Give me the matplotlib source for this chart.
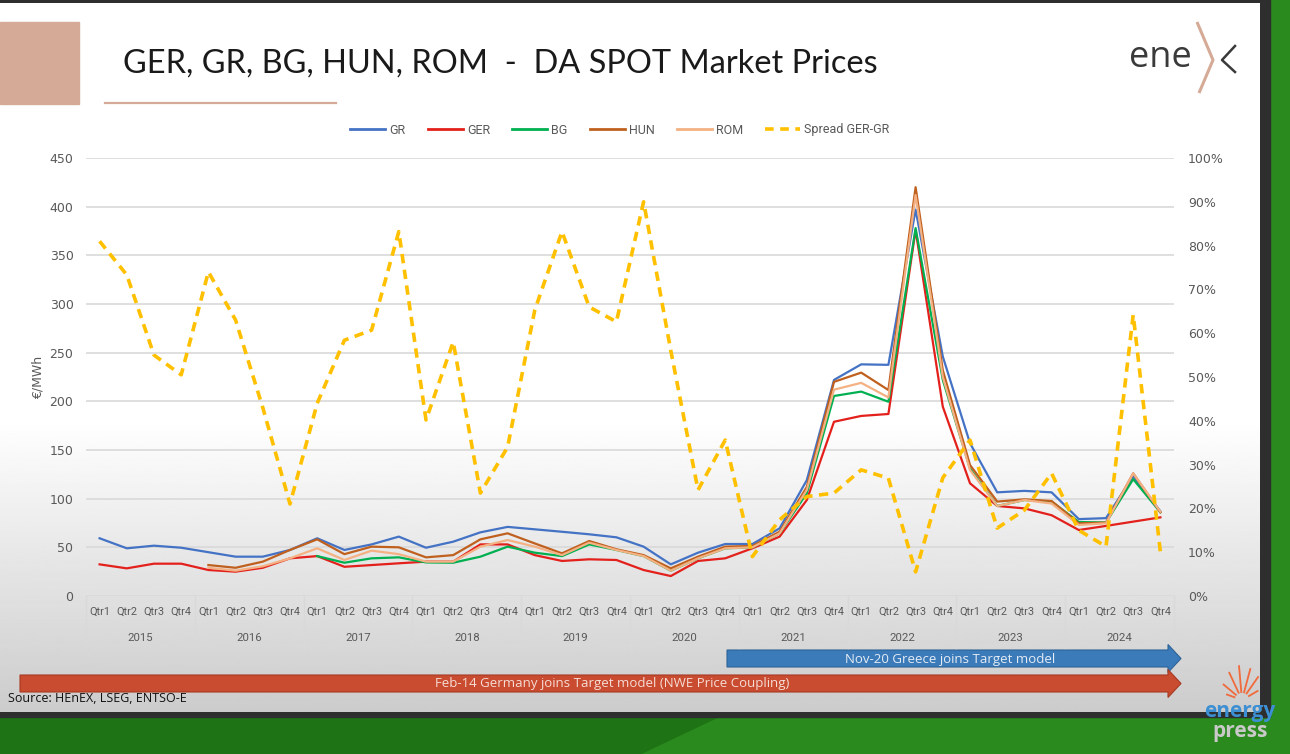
import numpy as np
import matplotlib
matplotlib.use("Agg")
import matplotlib.pyplot as plt
from matplotlib.lines import Line2D
from matplotlib.patches import Polygon, Rectangle
import matplotlib.transforms as mtransforms
from matplotlib.ticker import FuncFormatter

# ---------------- data ----------------
years = ["2015", "2016", "2017", "2018", "2019", "2020", "2021", "2022", "2023", "2024"]
quarters = ["Qtr1", "Qtr2", "Qtr3", "Qtr4"]

gr = [59.3, 49, 51.7, 49.6, 45, 40.4, 40.4, 47.3, 59.3, 47.3, 53, 61,
      49.6, 55.8, 65.4, 71, 68.5, 66, 63.4, 60.3, 50.7, 32.5, 44.5, 53.4,
      53.4, 69.5, 119, 222, 238, 237.5, 397, 246, 157, 106.5, 108, 106.5,
      79, 80, 123, 87]
ger = [32.5, 28.4, 33.2, 33.2, 26.7, 25, 29, 38.7, 41, 30, 31.8, 33.6,
       35.3, 35.3, 53, 53, 42, 36, 37.7, 37, 26.7, 20.5, 36, 38.7,
       49, 61, 98.6, 179, 185, 187, 376, 194.5, 115.8, 92.5, 90, 83,
       67.8, 72, 76.4, 80.8]
bg = [None] * 8 + [41, 34.2, 38.7, 39.7,
                   34.5, 34.2, 40.4, 50.7, 44.5, 41, 53, 47.3, 41, 26, 38.7, 49,
                   50, 64.4, 105.5, 205.5, 210, 199.6, 378, 222, 131, 92.5, 98.6, 97,
                   76, 75.5, 120, 86]
hun = [None] * 4 + [31.8, 29, 35.3, 47.3, 58.2, 43, 50.7, 50,
                    39.7, 42, 58.2, 64.4, 54, 43.8, 56.5, 48, 42, 28.4, 40.4, 50.7,
                    51.4, 66, 112, 220, 229.5, 211.6, 420, 232, 134.6, 97, 99.3, 97.6,
                    74.7, 75.4, 126, 86]
rom = [None] * 4 + [29, 26, 30.5, 38.7, 49, 37, 46.6, 43,
                    35.3, 35.3, 50.7, 57.5, 50.7, 42, 54.8, 47.3, 41, 26, 38.7, 49,
                    50, 64.4, 109, 212, 219, 204, 412, 225, 129.5, 92.5, 98.6, 95,
                    73, 74.7, 126, 86.6]
spread_pct = [81, 73.3, 55, 50.5, 74, 63, 43, 21, 44, 58.4, 60.7, 83.2,
              40.2, 58, 23.5, 34, 65.3, 83.2, 66, 62.6, 90, 56, 24.2, 35.6,
              9, 17.4, 22.7, 23.5, 28.8, 26.9, 5.5, 27, 35.6, 15.5, 19.6, 28,
              15, 11.3, 64.2, 10]

series_names = ["GR", "GER", "BG", "HUN", "ROM"]
series_vals = [gr, ger, bg, hun, rom]
series_colors = ["#4472C4", "#E3201B", "#00B050", "#C0601E", "#F4B183"]
spread_name = "Spread GER-GR"
spread_color = "#FFC000"

title = "GER, GR, BG, HUN, ROM  -  DA SPOT Market Prices"
arrow_blue_text = "Nov-20 Greece joins Target model"
arrow_red_text = "Feb-14 Germany joins Target model (NWE Price Coupling)"
source_text = "Source: HEnEX, LSEG, ENTSO-E"

# ---------------- figure ----------------
W, H = 1290, 754
fig = plt.figure(figsize=(W / 100, H / 100), dpi=100)
fig.patch.set_facecolor("#2A8A1E")

bgax = fig.add_axes([0, 0, 1, 1])
bgax.set_xlim(0, W)
bgax.set_ylim(H, 0)
bgax.axis("off")

# green background with diagonal shading
bgax.add_patch(Rectangle((0, 0), W, H, color="#2A8A1E", zorder=0))
bgax.add_patch(Polygon([[0, 716], [720, 716], [640, H], [0, H]], closed=True,
                       color="#1E7414", zorder=0.5))
# dark frame
bgax.add_patch(Rectangle((0, 0), 1270, 717, color="#2E2E2E", zorder=1))
# slide gradient
ys = np.linspace(3, 712, 300)
vals = np.where(ys < 420, 1.0, 1.0 - 0.2 * (ys - 420) / (712 - 420))
grad = np.repeat(vals[:, None], 2, axis=1)
bgax.imshow(grad, cmap="gray", vmin=0, vmax=1, extent=(0, 1260, 712, 3),
            aspect="auto", zorder=2, interpolation="bilinear")

# decorative tan block and underline
bgax.add_patch(Rectangle((0, 22), 79, 82, color="#D5AA96", zorder=3))
bgax.plot([105, 336], [103, 103], color="#D5AA96", lw=1.6, zorder=3)

bgax.text(123, 64, title, fontsize=23.4, family="Lato", color="#1A1A1A",
          va="center", ha="left", zorder=4)

# enex logo
bgax.text(1129, 58, "ene", fontsize=26, family="Open Sans", color="#3A3A3A",
          va="center", ha="left", zorder=4)
bgax.plot([1197, 1213, 1199], [22, 60, 93], color="#D5AA96", lw=2.2, zorder=4,
          solid_capstyle="butt")
bgax.plot([1235, 1222, 1235], [46, 60, 72], color="#3A3A3A", lw=1.8, zorder=4)

# arrows
def arrow(x0, x1, xt, yc, half_body, half_head, color, edge):
    pts = [[x0, yc - half_body], [x1, yc - half_body], [x1, yc - half_head],
           [xt, yc], [x1, yc + half_head], [x1, yc + half_body], [x0, yc + half_body]]
    bgax.add_patch(Polygon(pts, closed=True, facecolor=color, edgecolor=edge,
                           lw=0.8, zorder=4))

arrow(727, 1168, 1181, 658.5, 8.5, 14, "#3B7BBA", "#2E6396")
arrow(20, 1168, 1181, 683.5, 8.5, 14, "#C94B30", "#A63A23")
bgax.text(950, 659, arrow_blue_text, fontsize=9.5, family="Open Sans",
          color="#E4ECF5", ha="center", va="center", zorder=5)
bgax.text(612, 684, arrow_red_text, fontsize=9.5, family="Open Sans",
          color="#F6DDD5", ha="center", va="center", zorder=5)
bgax.text(8, 698, source_text, fontsize=9, family="Open Sans", color="#111111",
          ha="left", va="center", zorder=5)

# energy press logo
cx, cy = 1242, 700
for ang, r1 in [(30, 18), (55, 28), (75, 32), (95, 34), (115, 30), (140, 24), (160, 16)]:
    a = np.deg2rad(ang)
    r0 = 8
    bgax.plot([cx + r0 * np.cos(a), cx + r1 * np.cos(a)],
              [cy - r0 * np.sin(a), cy - r1 * np.sin(a)],
              color="#F06A3C", lw=1.3, zorder=5)
bgax.text(1240, 711, "energy", fontsize=15, family="Open Sans", color="#3D8FD3",
          ha="center", va="center", zorder=5, fontweight="bold")
bgax.text(1240, 732, "press", fontsize=15, family="Open Sans", color="#C9C9C9",
          ha="center", va="center", zorder=5, fontweight="bold")

# ---------------- main chart ----------------
left, right, top, bottom = 86, 1174, 158, 596
ax = fig.add_axes([left / W, 1 - bottom / H, (right - left) / W, (bottom - top) / H])
ax.patch.set_alpha(0)
x = np.arange(len(gr)) + 0.5

for name, vals_, col in zip(series_names, series_vals, series_colors):
    y = np.array([np.nan if v is None else v for v in vals_], dtype=float)
    ax.plot(x, y, color=col, lw=1.6, label=name, zorder=3)

ax.set_xlim(0, 40)
ax.set_ylim(0, 450)
ax.set_yticks(np.arange(0, 451, 50))
ax.yaxis.grid(True, color="#D9D9D9", lw=1.2)
ax.set_axisbelow(True)
for s in ax.spines.values():
    s.set_visible(False)
ax.tick_params(axis="y", length=0, pad=9, labelsize=9, labelcolor="#595959")
ax.set_xticks([])
ax.set_ylabel("€/MWh", fontsize=9, color="#595959", labelpad=4)

ax2 = ax.twinx()
ax2.plot(x, np.array(spread_pct) / 100.0, color=spread_color, lw=2.6,
         dashes=(2.6, 1.8), dash_capstyle="butt", zorder=4)
ax2.set_ylim(0, 1)
ax2.set_yticks(np.arange(0, 1.01, 0.1))
ax2.yaxis.set_major_formatter(FuncFormatter(lambda v, p: f"{v * 100:.0f}%"))
for s in ax2.spines.values():
    s.set_visible(False)
ax2.tick_params(axis="y", length=0, pad=10, labelsize=9, labelcolor="#595959")

# multi-level category axis
trans = mtransforms.blended_transform_factory(ax.transData, ax.transAxes)
h = bottom - top
for k in range(len(years) + 1):
    ax.plot([4 * k, 4 * k], [0, -52 / h], color="#D9D9D9", lw=1.0,
            transform=trans, clip_on=False)
for k, yr in enumerate(years):
    for q, qn in enumerate(quarters):
        ax.text(4 * k + q + 0.5, -16 / h, qn, transform=trans, ha="center",
                va="center", fontsize=7.8, family="Roboto", color="#595959")
    ax.text(4 * k + 2, -42 / h, yr, transform=trans, ha="center", va="center",
            fontsize=8.2, family="Roboto", color="#595959")

# legend
handles = [Line2D([0], [0], color=c, lw=2) for c in series_colors]
handles.append(Line2D([0], [0], color=spread_color, lw=2.6, dashes=(2.4, 1.8)))
labels = series_names + [spread_name]
leg = fig.legend(handles, labels, loc="center", ncol=6,
                 bbox_to_anchor=(620 / W, 1 - 130 / H), frameon=False,
                 handlelength=2.8, columnspacing=1.75,
                 handletextpad=0.35, prop={"family": "Roboto", "size": 9})
for t in leg.get_texts():
    t.set_color("#595959")

fig.savefig("out.png", dpi=100)
